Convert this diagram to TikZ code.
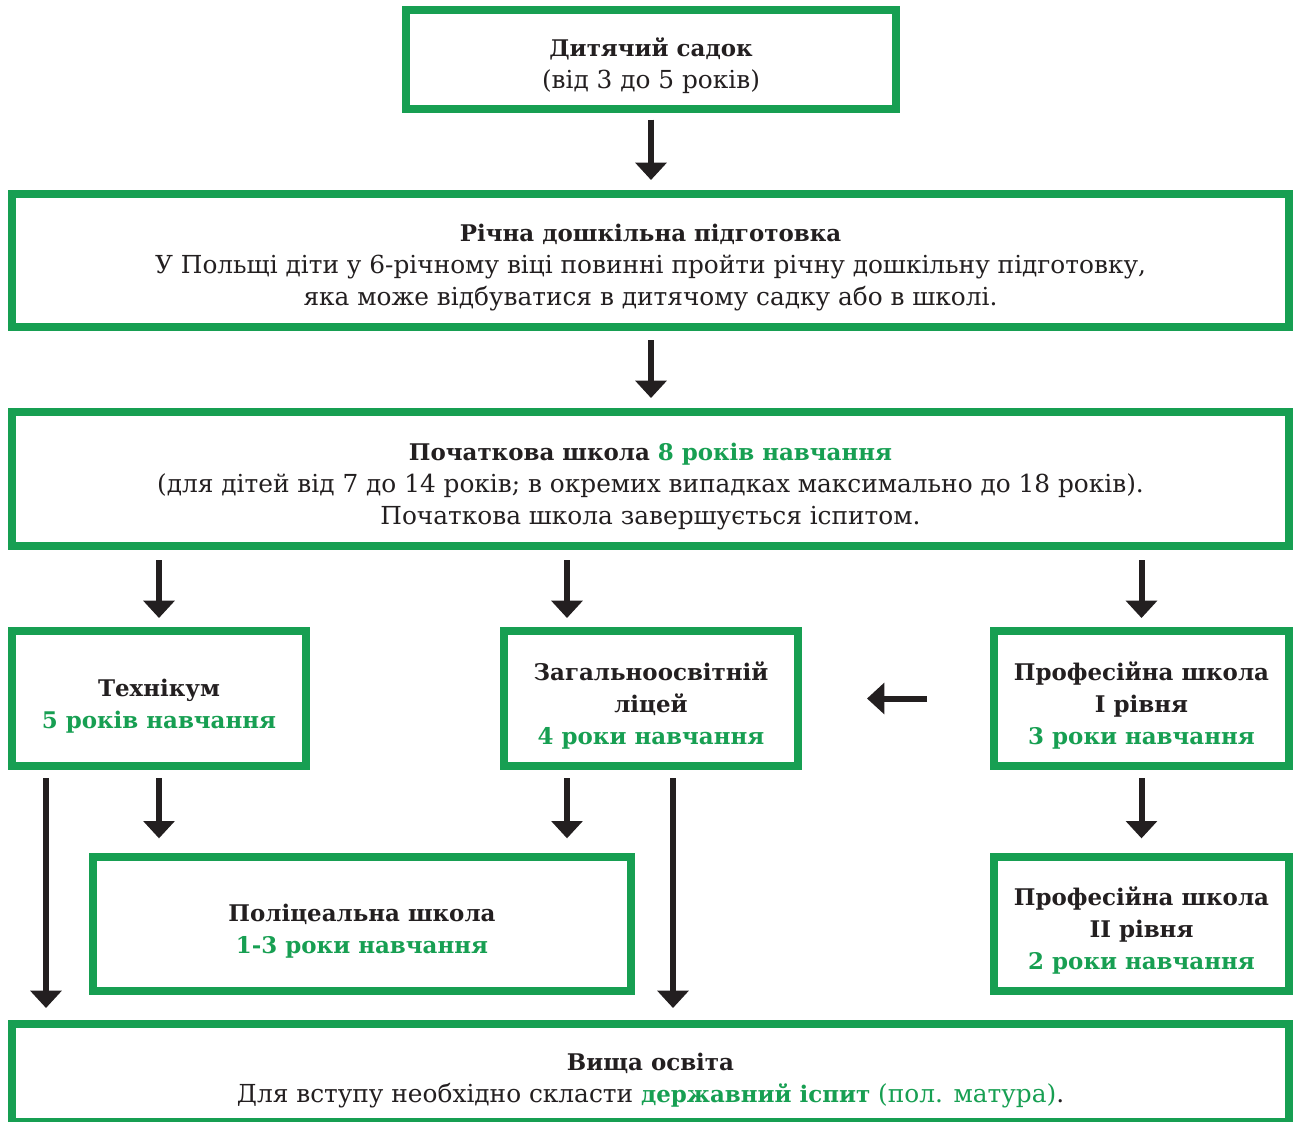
\documentclass[tikz,border=0pt]{standalone}
\usepackage{fontspec}
\setmainfont{DejaVu Serif}
\usetikzlibrary{arrows.meta}
\definecolor{grn}{HTML}{179F52}
\definecolor{ink}{HTML}{231F20}
\newcommand{\G}[1]{\textcolor{grn}{#1}}
\newcommand{\B}[1]{{\fontsize{17.2}{24}\selectfont\bfseries #1}}
\newcommand{\T}{\rule{0pt}{24pt}}
\begin{document}
\begin{tikzpicture}[x=0.75pt,y=-0.75pt,
  box/.style={draw=grn, line width=6pt, align=center, inner sep=0pt, text=ink,
    font=\fontsize{18.6}{24}\selectfont},
  arr/.style={draw=ink, line width=4.5pt, -{Triangle[width=23pt,length=13pt]}}]
\useasboundingbox (0,0) rectangle (1295,1121);
\fill[white] (0,0) rectangle (1295,1121);

\node[box, minimum width=367.5pt, minimum height=74.25pt] (kg) at (651,59.5)
  {\T\B{Дитячий садок}\\(від 3 до 5 років)};
\node[box, minimum width=957.75pt, minimum height=99.75pt] (prep) at (650.5,260.5)
  {\T\B{Річна дошкільна підготовка}\\У Польщі діти у 6-річному віці повинні пройти річну дошкільну підготовку,\\яка може відбуватися в дитячому садку або в школі.};
\node[box, minimum width=957.75pt, minimum height=100.5pt] (prim) at (650.5,479)
  {\T\B{Початкова школа \G{8 років навчання}}\\(для дітей від 7 до 14 років; в окремих випадках максимально до 18 років).\\Початкова школа завершується іспитом.};
\node[box, minimum width=220.5pt, minimum height=101.25pt] (tech) at (159,698.5)
  {\T\B{Технікум}\\\B{\G{5 років навчання}}};
\node[box, minimum width=220.5pt, minimum height=101.25pt] (lyc) at (651,698.5)
  {\T\B{Загальноосвітній}\\\B{ліцей}\\\B{\G{4 роки навчання}}};
\node[box, minimum width=221.25pt, minimum height=101.25pt] (prof1) at (1141.5,698.5)
  {\T\B{Професійна школа}\\\B{I рівня}\\\B{\G{3 роки навчання}}};
\node[box, minimum width=403.5pt, minimum height=100.5pt] (pol) at (362,924)
  {\T\B{Поліцеальна школа}\\\B{\G{1-3 роки навчання}}};
\node[box, minimum width=221.25pt, minimum height=100.5pt] (prof2) at (1141.5,924)
  {\T\B{Професійна школа}\\\B{II рівня}\\\B{\G{2 роки навчання}}};
\node[box, minimum width=957.75pt, minimum height=73.5pt] (high) at (650.5,1073)
  {\T\B{Вища освіта}\\Для вступу необхідно скласти \B{\G{державний іспит}} \G{(пол. матура)}.};

\coordinate (xl) at (567,0);
\coordinate (xa) at (46,0);
\coordinate (xb) at (673,0);

\draw[arr, shorten <=5pt, shorten >=7.5pt] (kg.south) -- (kg.south |- prep.north);
\draw[arr, shorten <=6.75pt, shorten >=7.5pt] (prep.south -| kg.south) -- (prim.north -| kg.south);
\draw[arr, shorten <=7.5pt, shorten >=6.75pt] (prim.south -| tech.north) -- (tech.north);
\draw[arr, shorten <=7.5pt, shorten >=6.75pt] (prim.south -| xl) -- (lyc.north -| xl);
\draw[arr, shorten <=7.5pt, shorten >=6.75pt] (prim.south -| prof1.north) -- (prof1.north);
\draw[arr, shorten <=47.25pt, shorten >=48.75pt] (prof1.west) -- (lyc.east);
\draw[arr, shorten <=6pt, shorten >=9pt] (tech.south -| xa) -- (high.north -| xa);
\draw[arr, shorten <=6pt, shorten >=11pt] (tech.south) -- (tech.south |- pol.north);
\draw[arr, shorten <=6pt, shorten >=11pt] (lyc.south -| xl) -- (pol.north -| xl);
\draw[arr, shorten <=6pt, shorten >=9pt] (lyc.south -| xb) -- (high.north -| xb);
\draw[arr, shorten <=6pt, shorten >=11pt] (prof1.south) -- (prof2.north);
\end{tikzpicture}
\end{document}
